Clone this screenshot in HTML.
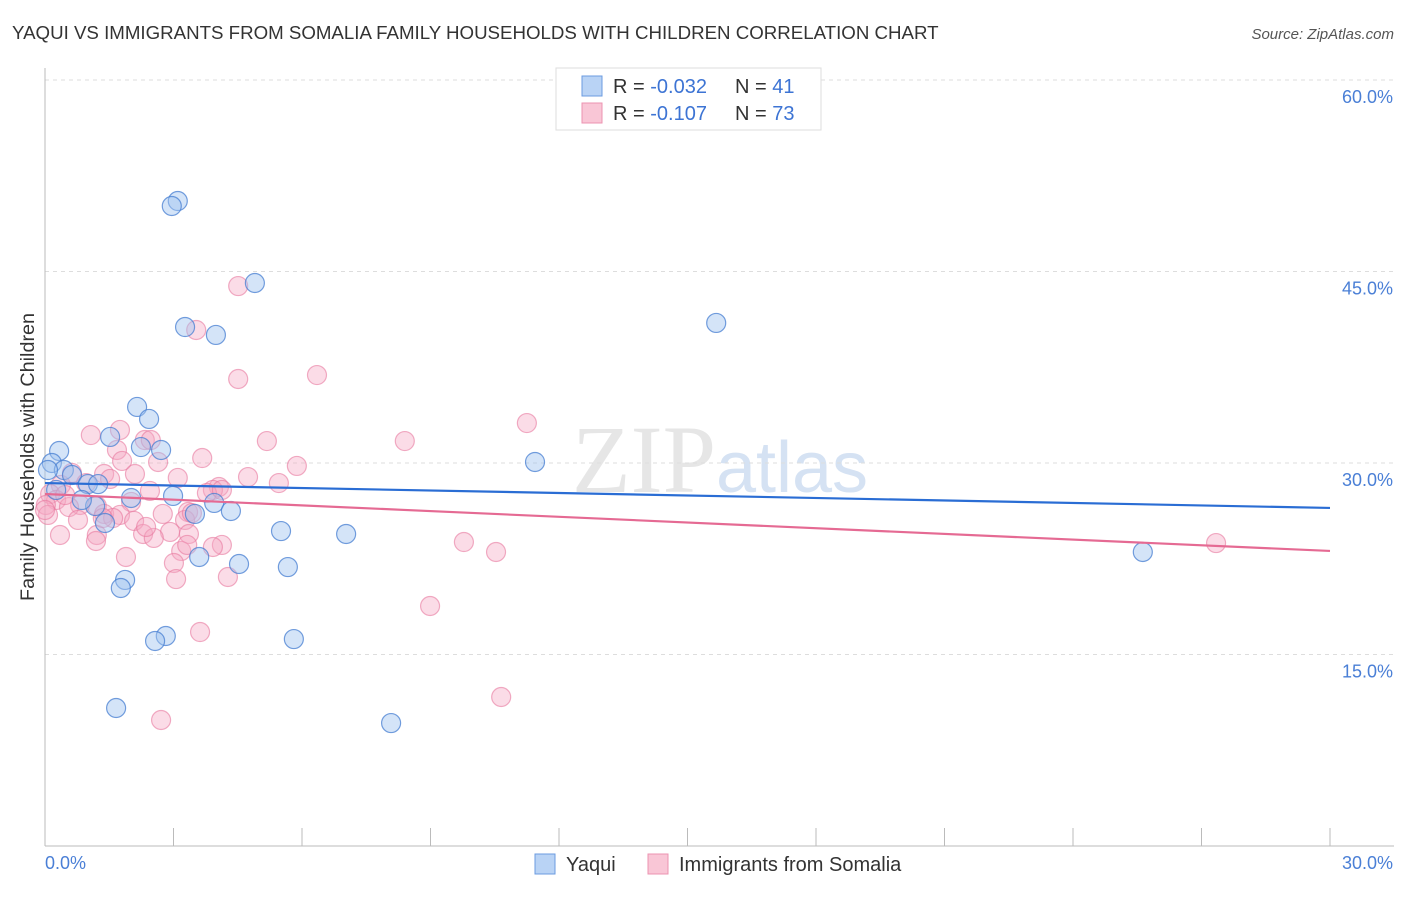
<!DOCTYPE html>
<html><head><meta charset="utf-8"><style>
body{margin:0;background:#fff;font-family:"Liberation Sans",sans-serif}
</style></head><body>
<svg id="chart" width="1406" height="892" xmlns="http://www.w3.org/2000/svg" style="font-family:'Liberation Sans',sans-serif">
<text x="12" y="39" font-size="18.7" fill="#333">YAQUI VS IMMIGRANTS FROM SOMALIA FAMILY HOUSEHOLDS WITH CHILDREN CORRELATION CHART</text>
<text x="1394" y="39" font-size="15" fill="#555" font-style="italic" text-anchor="end">Source: ZipAtlas.com</text>
<text x="720" y="492" font-size="96" fill="#e6e6e6" text-anchor="middle" font-family="Liberation Serif,serif">ZIP<tspan fill="#d5e2f3" font-family="Liberation Sans,sans-serif" font-size="72">atlas</tspan></text>
<g id="grid"></g><g id="axes"></g><g id="pts"></g><g id="trend"></g>
<text transform="translate(34,457) rotate(-90)" font-size="19.8" fill="#333" text-anchor="middle">Family Households with Children</text>
<g>
<rect x="556" y="68" width="265" height="62" fill="#fff" stroke="#ddd"/>
<rect x="582" y="76" width="20" height="20" fill="#b9d3f5" stroke="#6b9be0"/>
<rect x="582" y="103" width="20" height="20" fill="#f9c6d6" stroke="#ec93b0"/>
<text x="613" y="93" font-size="20" fill="#333">R = <tspan fill="#3d74d4">-0.032</tspan><tspan x="735">N = </tspan><tspan fill="#3d74d4">41</tspan></text>
<text x="613" y="120" font-size="20" fill="#333">R = <tspan fill="#3d74d4"> -0.107</tspan><tspan x="735">N = </tspan><tspan fill="#3d74d4">73</tspan></text>
</g>
<g>
<rect x="535" y="854" width="20" height="20" fill="#b9d3f5" stroke="#6b9be0"/>
<text x="566" y="871" font-size="20" fill="#333">Yaqui</text>
<rect x="648" y="854" width="20" height="20" fill="#f9c6d6" stroke="#ec93b0"/>
<text x="679" y="871" font-size="20" fill="#333">Immigrants from Somalia</text>
</g>
</svg>
<script>
const yTicks=[15,30,45,60];
const yTickLabels=["15.0%","30.0%","45.0%","60.0%"];
const xTickLabels=["0.0%","30.0%"];
const yaquiX=[3.10,2.96,4.90,3.27,3.99,15.67,2.15,2.43,1.52,2.24,2.71,0.33,0.16,0.44,0.63,11.44,1.00,1.24,0.26,2.01,2.99,1.17,3.95,3.50,4.34,1.40,5.51,7.03,3.60,4.53,5.67,1.87,1.77,2.82,2.57,5.81,1.66,8.08,25.63,0.86,0.07];
const yaquiY=[50.52,50.13,44.10,40.65,40.03,40.97,34.39,33.45,32.04,31.25,31.02,30.94,30.00,29.45,29.06,30.08,28.35,28.35,27.89,27.26,27.42,26.63,26.87,26.01,26.24,25.30,24.67,24.44,22.64,22.09,21.85,20.84,20.21,16.45,16.06,16.21,10.81,9.63,23.03,27.10,29.45];
const somX=[4.51,3.53,4.51,6.35,11.25,1.07,1.75,8.40,5.18,2.33,1.68,2.47,2.64,1.80,3.67,5.88,4.74,3.10,1.38,0.63,1.52,0.96,2.45,4.06,3.92,3.78,4.13,0.37,0.12,0.26,0.02,0.82,1.21,0.56,5.46,2.01,3.34,2.75,1.38,1.75,0.77,2.08,3.27,1.59,0.35,1.21,2.29,2.92,2.54,1.19,3.36,4.13,3.92,3.18,3.32,1.89,9.78,10.53,27.34,3.01,4.27,3.06,8.99,3.62,10.65,2.71,0.07,0.0,0.47,2.10,1.35,3.43,2.36];
const somY=[43.86,40.42,36.58,36.89,33.13,32.19,32.59,31.72,31.72,31.80,31.02,31.80,30.08,30.16,30.39,29.77,28.90,28.83,29.14,29.22,28.75,28.43,27.81,28.12,27.89,27.65,27.89,28.28,27.57,27.10,26.71,26.71,26.63,26.55,28.43,26.95,26.16,26.01,26.01,25.93,25.54,25.46,25.54,25.69,24.36,24.36,24.44,24.60,24.13,23.89,24.44,23.58,23.42,23.11,23.58,22.64,23.81,23.03,23.73,22.17,21.07,20.91,18.80,16.76,11.67,9.87,25.93,26.32,27.49,29.14,25.69,26.08,24.99];
const yaquiTrend=[28.43,26.48];
const somTrend=[27.57,23.11];
const NS="http://www.w3.org/2000/svg";
const X0=45,X1=1330,Y0=846,XMAX=30,YMAX=60;
function sx(v){return X0+(X1-X0)*v/XMAX;}
function sy(v){return Y0-(Y0-80)*v/YMAX;}
function mk(tag,attrs,parent){const e=document.createElementNS(NS,tag);for(const k in attrs)e.setAttribute(k,attrs[k]);parent.appendChild(e);return e;}
const grid=document.getElementById('grid'),axes=document.getElementById('axes'),pts=document.getElementById('pts'),trend=document.getElementById('trend');
yTicks.forEach((t,i)=>{
  const l=mk('line',{x1:X0,x2:1394,y1:sy(t),y2:sy(t),stroke:'#ddd','stroke-dasharray':'4,4'},grid);
  
  
  const tx=mk('text',{x:1393,y:sy(t)+23,'font-size':18,fill:'#4a7fd6','text-anchor':'end'},axes);
  tx.textContent=yTickLabels[i];
  
  
});
const ya=mk('line',{x1:X0,x2:X0,y1:68,y2:Y0,stroke:'#bbb'},axes);


const xa=mk('line',{x1:X0,x2:1394,y1:Y0,y2:Y0,stroke:'#bbb'},axes);


for(let k=1;k<=10;k++){
  const t=mk('line',{x1:sx(k*3),x2:sx(k*3),y1:828,y2:Y0,stroke:'#bbb'},axes);
  
  
}
const xl0=mk('text',{x:45,y:869,'font-size':18,fill:'#4a7fd6'},axes);
xl0.textContent=xTickLabels[0];


const xl1=mk('text',{x:1393,y:869,'font-size':18,fill:'#4a7fd6','text-anchor':'end'},axes);
xl1.textContent=xTickLabels[1];


somX.forEach((v,i)=>{
  const c=mk('circle',{cx:sx(v),cy:sy(somY[i]),r:9.5,fill:'rgba(246,168,194,0.4)',stroke:'rgba(232,120,158,0.6)','stroke-width':1.2},pts);
  
  
});
yaquiX.forEach((v,i)=>{
  const c=mk('circle',{cx:sx(v),cy:sy(yaquiY[i]),r:9.5,fill:'rgba(160,196,240,0.45)',stroke:'rgba(70,125,210,0.75)','stroke-width':1.2},pts);
  
  
});
const tb=mk('line',{x1:X0,x2:X1,y1:sy(yaquiTrend[0]),y2:sy(yaquiTrend[1]),stroke:'#2a6dd4','stroke-width':2.2},trend);


const tp=mk('line',{x1:X0,x2:X1,y1:sy(somTrend[0]),y2:sy(somTrend[1]),stroke:'#e56a93','stroke-width':2.2},trend);


</script>
</body></html>
